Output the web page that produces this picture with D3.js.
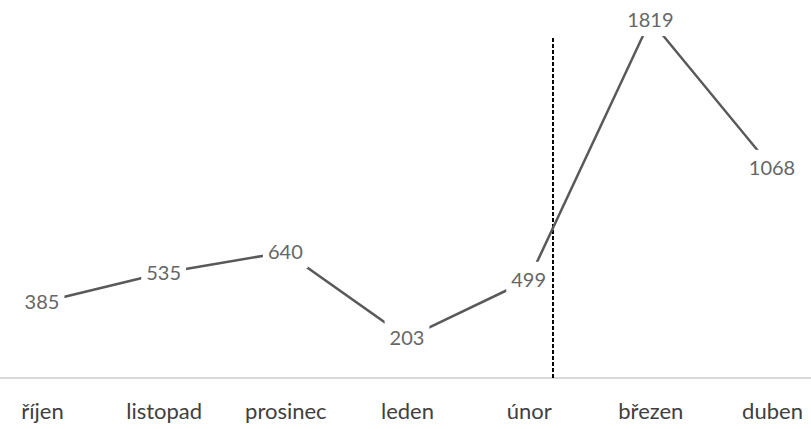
<!DOCTYPE html>
<html><head><meta charset="utf-8">
<script src="https://cdn.jsdelivr.net/npm/d3@7"></script>
<style>body{margin:0;background:#fff}svg{display:block}</style>
</head><body>
<svg id="c" width="811" height="429"></svg>
<script>
const categories = ["říjen","listopad","prosinec","leden","únor","březen","duben"];
const values = [385,535,640,203,499,1819,1068];
const dividerIndex = 4.2; // position of dashed divider, in category steps

const svg = d3.select("#c");
const x = d3.scalePoint().domain(categories).range([42, 772]);
const y = d3.scaleLinear().domain([0, 1921]).range([378, 0]);

// axis line
const xAxis = d3.axisBottom(x).tickSize(0).tickPadding(33);
const gx = svg.append("g").attr("transform", `translate(0,${y(0)})`).call(xAxis);
gx.select(".domain").attr("d", "M0,0H811").attr("stroke", "#d9d9d9").attr("stroke-width", 2);
gx.selectAll(".tick text").attr("font-family", "Lato, 'Open Sans', sans-serif")
  .attr("font-size", 22).attr("fill", "#404040").attr("dy", "0.35em");

// dashed vertical divider
const xm = x(categories[0]) + dividerIndex * x.step();
svg.append("line").attr("x1", xm).attr("x2", xm).attr("y1", 38).attr("y2", y(0))
  .attr("stroke", "#000").attr("stroke-width", 2).attr("stroke-dasharray", "4,2");

// line
const data = categories.map((c, i) => ({c, v: values[i]}));
svg.append("path").datum(data)
  .attr("d", d3.line().x(d => x(d.c)).y(d => y(d.v)))
  .attr("fill", "none").attr("stroke", "#595959").attr("stroke-width", 2.5);

// labels with white boxes
const lg = svg.append("g").selectAll("g").data(data).join("g")
  .attr("transform", d => `translate(${x(d.c)},${y(d.v)})`);
lg.append("text").text(d => d.v)
  .attr("text-anchor", "middle").attr("dy", "0.35em")
  .attr("font-family", "Lato, 'Open Sans', sans-serif").attr("font-size", 20)
  .attr("fill", "#666");
lg.each(function() {
  const g = d3.select(this);
  const b = g.select("text").node().getBBox();
  g.insert("rect", "text").attr("x", b.x - 5).attr("y", b.y - 5)
    .attr("width", b.width + 10).attr("height", b.height + 10).attr("fill", "#fff");
});
</script>
</body></html>
